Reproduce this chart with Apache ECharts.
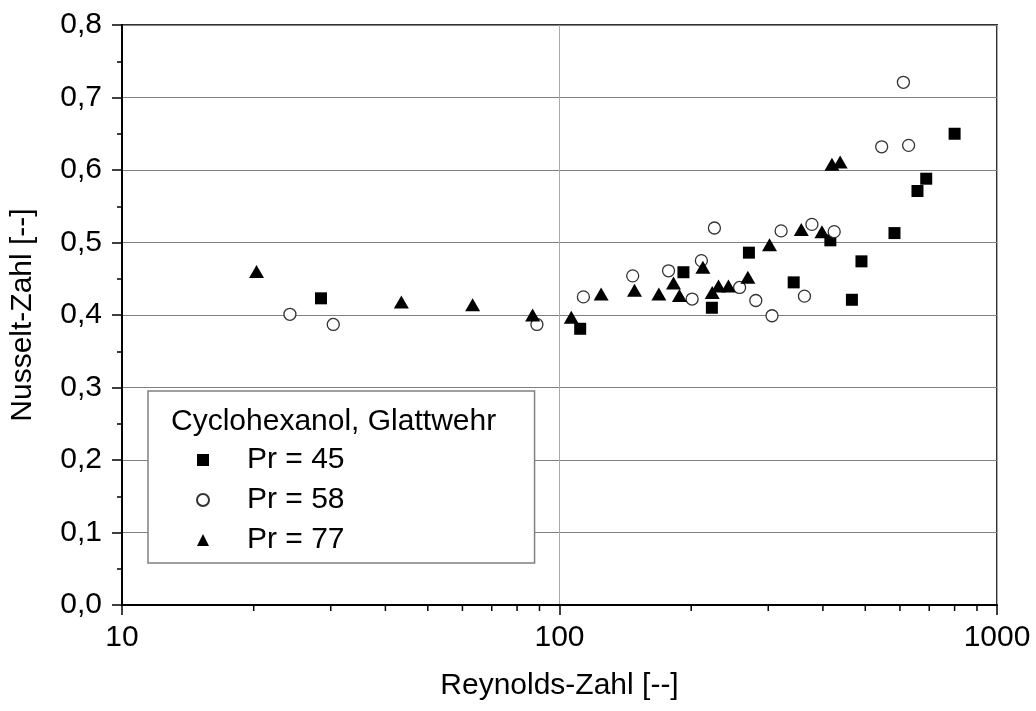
<!DOCTYPE html>
<html>
<head>
<meta charset="utf-8">
<script src="https://cdn.jsdelivr.net/npm/echarts@6/dist/echarts.min.js"></script>
<style>html,body{margin:0;padding:0;background:#fff}#c{width:1036px;height:711px}</style>
</head>
<body>
<div id="c"></div>
<script>
const legendTitle = 'Cyclohexanol, Glattwehr';
const seriesNames = ['Pr = 45', 'Pr = 58', 'Pr = 77'];
const pr45 = [[28.5,0.423],[111.5,0.381],[192,0.459],[223,0.410],[271,0.486],[343,0.445],[416,0.503],[466,0.421],[490,0.474],[583,0.513],[658,0.571],[689,0.588],[800,0.650]];
const pr58 = [[24.2,0.401],[30.4,0.387],[88.8,0.387],[113.4,0.425],[147,0.454],[177.5,0.461],[201,0.422],[211,0.475],[226,0.520],[258,0.438],[281,0.420],[306,0.399],[321,0.516],[363,0.426],[377.5,0.525],[424.5,0.515],[545,0.632],[611,0.721],[628,0.634]];
const pr77 = [[20.3,0.460],[43.5,0.418],[63.3,0.414],[86.8,0.400],[106.4,0.397],[124.5,0.429],[148.4,0.434],[168.7,0.429],[182.2,0.444],[188,0.427],[212.7,0.466],[223.4,0.431],[230.9,0.440],[243.3,0.440],[269.5,0.452],[302,0.497],[357,0.518],[398,0.515],[419.5,0.608],[438,0.611]];
const xMinorTicks = [20,30,40,50,60,70,80,90,200,300,400,500,600,700,800,900];
const xName = 'Reynolds-Zahl [--]';
const yName = 'Nusselt-Zahl [--]';

const FONT = '"Liberation Sans", Arial, sans-serif';
const chart = echarts.init(document.getElementById('c'), null, {renderer: 'canvas'});
chart.setOption({
  animation: false,
  backgroundColor: '#fff',
  textStyle: {fontFamily: FONT, color: '#000'},
  grid: {left: 121, right: 39, top: 25, bottom: 106, show: true, borderColor: '#333', borderWidth: 2, backgroundColor: 'transparent', containLabel: false},
  title: {
    text: legendTitle, left: 166, top: 402, z: 20,
    textStyle: {fontFamily: FONT, fontSize: 30, fontWeight: 'normal', color: '#000'}
  },
  legend: {
    data: seriesNames,
    orient: 'vertical',
    left: 148, top: 391,
    padding: [54, 190, 8, 48],
    itemGap: 10,
    itemWidth: 12, itemHeight: 12,
    backgroundColor: '#fff',
    borderColor: '#808080', borderWidth: 1.5,
    textStyle: {fontFamily: FONT, fontSize: 30, color: '#000', lineHeight: 30, padding: [0, 0, 0, 33]},
    z: 10
  },
  xAxis: {
    type: 'log', min: 10, max: 1000, logBase: 10,
    name: xName, nameLocation: 'middle', nameGap: 66,
    nameTextStyle: {fontFamily: FONT, fontSize: 30, color: '#000'},
    axisLine: {show: true, onZero: false, lineStyle: {color: '#000', width: 2}},
    axisTick: {show: true, inside: false, length: 10, lineStyle: {color: '#000', width: 1.5}},
    axisLabel: {fontFamily: FONT, fontSize: 30, color: '#000', margin: 18,
      formatter: v => String(Math.round(v))},
    splitLine: {show: true, lineStyle: {color: '#aaa', width: 1}},
    minorTick: {show: false}
  },
  yAxis: {
    type: 'value', min: 0, max: 0.8, interval: 0.1,
    name: yName, nameLocation: 'middle', nameGap: 84, nameRotate: 90,
    nameTextStyle: {fontFamily: FONT, fontSize: 30, color: '#000'},
    axisLine: {show: true, lineStyle: {color: '#000', width: 2}},
    axisTick: {show: true, inside: false, length: 10, lineStyle: {color: '#000', width: 1.5}},
    minorTick: {show: true, splitNumber: 2, length: 5, lineStyle: {color: '#000', width: 1.5}},
    axisLabel: {fontFamily: FONT, fontSize: 30, color: '#000', margin: 20,
      formatter: v => v.toFixed(1).replace('.', ',')},
    splitLine: {show: true, lineStyle: {color: '#808080', width: 1}}
  },
  series: [
    {name: seriesNames[0], type: 'scatter', data: pr45, symbol: 'rect', symbolSize: 12,
     itemStyle: {color: '#000', opacity: 1}, z: 5},
    {name: seriesNames[1], type: 'scatter', data: pr58, symbol: 'circle', symbolSize: 12,
     itemStyle: {color: '#fff', borderColor: '#333', borderWidth: 1.3, opacity: 1}, z: 5},
    {name: seriesNames[2], type: 'scatter', data: pr77, symbol: 'triangle', symbolSize: [15, 13],
     itemStyle: {color: '#000', opacity: 1}, z: 5},
    {name: 'minorTicks', type: 'custom', clip: false, silent: true, z: 6,
     data: xMinorTicks.map(v => [v, 0]),
     renderItem: function (params, api) {
       const p = api.coord([api.value(0), 0]);
       return {type: 'line', shape: {x1: p[0], y1: p[1], x2: p[0], y2: p[1] + 6},
               style: {stroke: '#000', lineWidth: 1.5}};
     }}
  ]
});
</script>
</body>
</html>
